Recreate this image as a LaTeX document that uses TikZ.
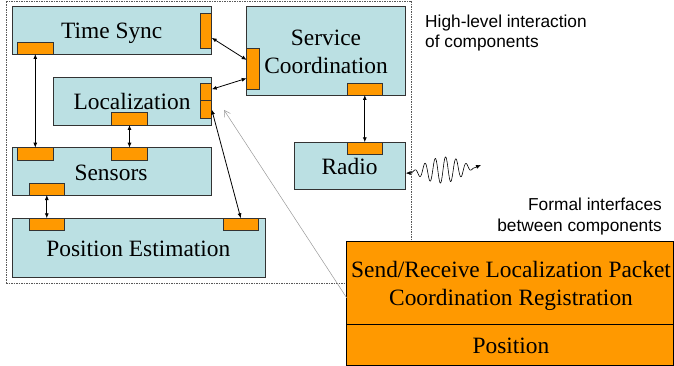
\documentclass[tikz,border=0pt]{standalone}
\usepackage{fontspec}
\setmainfont{Liberation Serif}
\newfontfamily\sansf{Liberation Sans}
\usetikzlibrary{arrows.meta}
\definecolor{boxfill}{HTML}{BBE0E3}
\definecolor{portfill}{HTML}{FF9900}
\definecolor{edgecol}{HTML}{333333}
\tikzset{
 comp/.style={draw=edgecol, line width=0.9pt, fill=boxfill, inner sep=0pt, outer sep=0pt},
 port/.style={draw=edgecol, line width=0.9pt, fill=portfill, inner sep=0pt, outer sep=0pt},
 iface/.style={draw=black, line width=0.9pt, fill=portfill, inner sep=0pt, outer sep=0pt},
 lbl/.style={anchor=base, inner sep=0pt, font=\fontsize{23.4}{27}\selectfont},
 note/.style={inner sep=0pt, font=\sansf\fontsize{17.3}{20}\selectfont},
 link/.style={line width=0.8pt, {Latex[length=5pt,width=4pt]}-{Latex[length=5pt,width=4pt]}},
 frame/.style={draw=black!65, line width=0.6pt, dash pattern=on 1.5pt off 1pt, inner sep=0pt, outer sep=0pt},
}
\begin{document}
\begin{tikzpicture}[x=1pt,y=-1pt]
\useasboundingbox (0,0) rectangle (674,366);
% dashed frame
\node[frame, minimum width=405pt, minimum height=282pt] (fr) at (208.5,142) {};
% components
\node[comp, minimum width=199.7pt, minimum height=47.3pt] (ts) at (111.85,30.35) {};
\node[comp, minimum width=158.4pt, minimum height=47.3pt] (loc) at (132.5,101.35) {};
\node[comp, minimum width=159pt, minimum height=88.3pt] (svc) at (326.2,50.85) {};
\node[comp, minimum width=111.7pt, minimum height=46.7pt] (radio) at (349.85,165.65) {};
\node[comp, minimum width=199.7pt, minimum height=47.3pt] (sens) at (111.85,171.35) {};
\node[comp, minimum width=253pt, minimum height=59pt] (pe) at (138.5,247.8) {};
% ports
\node[port, minimum width=11.7pt, minimum height=35pt] (tsR) at (205.85,30.8) {};
\node[port, minimum width=36pt, minimum height=11.7pt] (tsB) at (35.3,48.15) {};
\node[port, minimum width=11.7pt, minimum height=17.4pt] (locR1) at (205.85,92) {};
\node[port, minimum width=11.7pt, minimum height=17.6pt] (locR2) at (205.85,109.5) {};
\node[port, minimum width=35.6pt, minimum height=12.3pt] (locB) at (129.5,118.85) {};
\node[port, minimum width=12.3pt, minimum height=41pt] (svcL) at (252.85,68.8) {};
\node[port, minimum width=35pt, minimum height=11.7pt] (svcB) at (364.8,89.15) {};
\node[port, minimum width=35pt, minimum height=11.7pt] (radT) at (364.8,148.15) {};
\node[port, minimum width=36pt, minimum height=12.3pt] (sensT1) at (35.3,153.85) {};
\node[port, minimum width=35.6pt, minimum height=12.3pt] (sensT2) at (129.5,153.85) {};
\node[port, minimum width=35pt, minimum height=11.7pt] (sensB) at (46.8,189.15) {};
\node[port, minimum width=35pt, minimum height=11.7pt] (peT1) at (46.8,224.15) {};
\node[port, minimum width=35pt, minimum height=11.7pt] (peT2) at (240.8,224.15) {};
% interface box
\node[iface, minimum width=326.8pt, minimum height=82.3pt] (ifA) at (510.1,282.85) {};
\node[iface, minimum width=326.8pt, minimum height=41.5pt] (ifB) at (510.1,344.75) {};
% labels
\node[lbl] (tsl) at (111.7,38.3) {Time Sync};
\node[lbl] (locl) at (132,110) {Localization};
\node[lbl] (svcl1) at (326,45.7) {Service};
\node[lbl] (svcl2) at (326,74) {Coordination};
\node[lbl] (radl) at (349.5,174.3) {Radio};
\node[lbl] (sensl) at (111,181) {Sensors};
\node[lbl] (pel) at (138.3,256.7) {Position Estimation};
\node[lbl] (if1) at (511,277.7) {Send/Receive Localization Packet};
\node[lbl] (if2) at (511,305.7) {Coordination Registration};
\node[lbl] (if3) at (511,353.3) {Position};
\node[note, anchor=base west] (hl1) at (425,27.5) {High-level interaction};
\node[note, anchor=base west] (hl2) at (425,47.5) {of components};
\node[note, anchor=base east] (fi1) at (662,211) {Formal interfaces};
\node[note, anchor=base east] (fi2) at (662,231) {between components};
% connectors
\draw[link] ([yshift=-7pt]tsR.east) -- ([yshift=8.8pt]svcL.west);
\draw[link] ([yshift=2.7pt]locR1.east) -- ([yshift=-9.5pt]svcL.west);
\draw[link] (locR2.east) -- (peT2.north);
\draw[link] (tsB.south) -- (sensT1.north);
\draw[link] (locB.south) -- (sensT2.north);
\draw[link] (sensB.south) -- (peT1.north);
\draw[link] (svcB.south) -- (radT.north);
% wireless wave
\coordinate (wend) at (481,165);
\draw[line width=0.6pt, {Latex[length=5pt,width=4pt]}-{Latex[length=5pt,width=4pt]}]
  ([yshift=-7.5pt]radio.east) -- (412,173)
  -- plot[domain=0:1, samples=200, smooth] ({412+62*\x},{172-4*\x-13*sin(180*\x)*sin(6*360*\x)})
  -- (wend);
% pointer from interface box
\coordinate (gtip) at (224,110);
\draw[black!40, line width=0.5pt, -{Straight Barb[length=6pt,width=7pt]}] ([yshift=-15pt]ifA.west) -- (gtip);
\end{tikzpicture}
\end{document}
